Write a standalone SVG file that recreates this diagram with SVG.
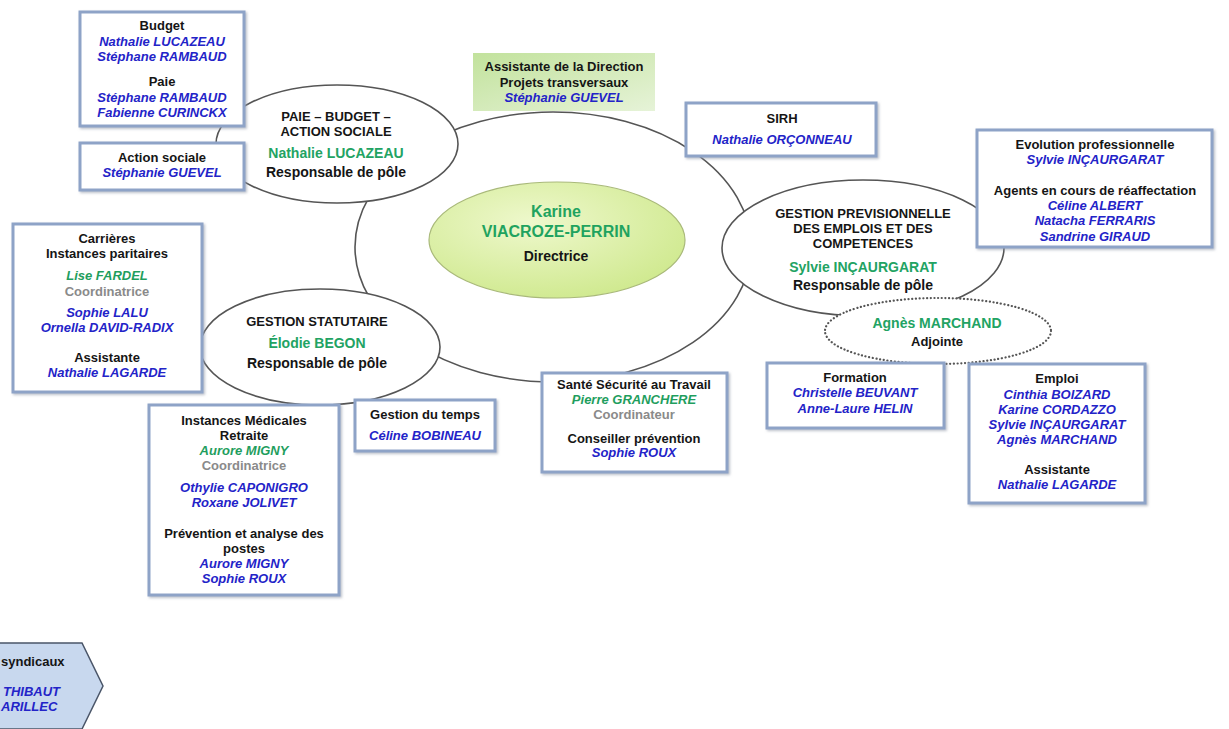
<svg xmlns="http://www.w3.org/2000/svg" width="1229" height="729" viewBox="0 0 1229 729">
<defs>
<style>
.t{font-family:"Liberation Sans",Arial,sans-serif;font-size:13px;font-weight:bold;text-anchor:middle;fill:#151515}
.b{fill:#2323c8;font-style:italic}
.g{fill:#1f9e5e;font-style:italic}
.ge{fill:#22a363;font-size:14px}
.gr{fill:#8a8a8a}
.r{font-size:14px}
.s{text-anchor:start}
.box{fill:#fff;stroke:#8ea3c7;stroke-width:3;filter:url(#sh)}
.ring{fill:#fff;stroke:#555;stroke-width:1.6}
</style>
<filter id="sh" x="-10%" y="-10%" width="130%" height="130%">
<feDropShadow dx="1.5" dy="1.5" stdDeviation="1.2" flood-color="#9098a8" flood-opacity="0.6"/>
</filter>
<linearGradient id="gA" x1="0" y1="0" x2="1" y2="1">
<stop offset="0" stop-color="#c2e29c"/>
<stop offset="1" stop-color="#e6f3d8"/>
</linearGradient>
<radialGradient id="gC" cx="0.4" cy="0.35" r="0.7">
<stop offset="0" stop-color="#eef8cc"/>
<stop offset="1" stop-color="#cfe98e"/>
</radialGradient>
</defs>
<rect width="1229" height="729" fill="#fff"/>

<g id="connectors"></g>

<g id="main-ring">
<ellipse class="ring" cx="553" cy="247" rx="198" ry="135"/>
</g>

<g id="pole-paie">
<ellipse class="ring" cx="337" cy="144" rx="121" ry="59"/>
<text class="t" x="336" y="121">PAIE – BUDGET –</text>
<text class="t" x="336" y="136">ACTION SOCIALE</text>
<text class="t ge" x="336" y="158">Nathalie LUCAZEAU</text>
<text class="t r" x="336" y="177">Responsable de pôle</text>
</g>

<g id="pole-statutaire">
<ellipse class="ring" cx="320" cy="347" rx="120" ry="58"/>
<text class="t" x="317" y="326">GESTION STATUTAIRE</text>
<text class="t ge" x="317" y="348">Élodie BEGON</text>
<text class="t r" x="317" y="368">Responsable de pôle</text>
</g>

<g id="pole-gpec">
<ellipse class="ring" cx="863" cy="248" rx="141" ry="68"/>
<text class="t" x="863" y="218">GESTION PREVISIONNELLE</text>
<text class="t" x="863" y="233">DES EMPLOIS ET DES</text>
<text class="t" x="863" y="248">COMPETENCES</text>
<text class="t ge" x="863" y="272">Sylvie INÇAURGARAT</text>
<text class="t r" x="863" y="290">Responsable de pôle</text>
</g>

<g id="adjointe">
<ellipse cx="938" cy="331" rx="113" ry="33" fill="#fff" stroke="#555" stroke-width="2.2" stroke-dasharray="0.1 3.6" stroke-linecap="round"/>
<text class="t ge" x="937" y="328">Agnès MARCHAND</text>
<text class="t" x="937" y="346">Adjointe</text>
</g>

<g id="directrice">
<ellipse cx="557" cy="240" rx="128" ry="58" fill="url(#gC)" stroke="#a9b97a" stroke-width="1.2"/>
<text class="t" x="556" y="217" style="font-size:16px;fill:#1fa35f">Karine</text>
<text class="t" x="556" y="237" style="font-size:16px;fill:#1fa35f">VIACROZE-PERRIN</text>
<text class="t r" x="556" y="261">Directrice</text>
</g>

<g id="budget-paie">
<rect class="box" x="80" y="12" width="164" height="114"/>
<text class="t" x="162" y="30">Budget</text>
<text class="t b" x="162" y="46">Nathalie LUCAZEAU</text>
<text class="t b" x="162" y="61">Stéphane RAMBAUD</text>
<text class="t" x="162" y="86">Paie</text>
<text class="t b" x="162" y="102">Stéphane RAMBAUD</text>
<text class="t b" x="162" y="117">Fabienne CURINCKX</text>
</g>

<g id="action-sociale">
<rect class="box" x="80" y="143" width="164" height="47"/>
<text class="t" x="162" y="162">Action sociale</text>
<text class="t b" x="162" y="177">Stéphanie GUEVEL</text>
</g>

<g id="assistante-direction">
<rect x="473" y="53" width="182" height="58" fill="url(#gA)"/>
<text class="t" x="564" y="71">Assistante de la Direction</text>
<text class="t" x="564" y="87">Projets transversaux</text>
<text class="t b" x="564" y="102">Stéphanie GUEVEL</text>
</g>

<g id="sirh">
<rect class="box" x="686" y="103" width="190" height="53"/>
<text class="t" x="782" y="123">SIRH</text>
<text class="t b" x="782" y="144">Nathalie ORÇONNEAU</text>
</g>

<g id="evolution">
<rect class="box" x="977" y="130" width="235" height="117"/>
<text class="t" x="1095" y="149">Evolution professionnelle</text>
<text class="t b" x="1095" y="164">Sylvie INÇAURGARAT</text>
<text class="t" x="1095" y="195">Agents en cours de réaffectation</text>
<text class="t b" x="1095" y="210">Céline ALBERT</text>
<text class="t b" x="1095" y="225">Natacha FERRARIS</text>
<text class="t b" x="1095" y="241">Sandrine GIRAUD</text>
</g>

<g id="carrieres">
<rect class="box" x="13" y="224" width="189" height="168"/>
<text class="t" x="107" y="243">Carrières</text>
<text class="t" x="107" y="258">Instances paritaires</text>
<text class="t g" x="107" y="280">Lise FARDEL</text>
<text class="t gr" x="107" y="296">Coordinatrice</text>
<text class="t b" x="107" y="317">Sophie LALU</text>
<text class="t b" x="107" y="332">Ornella DAVID-RADIX</text>
<text class="t" x="107" y="362">Assistante</text>
<text class="t b" x="107" y="377">Nathalie LAGARDE</text>
</g>

<g id="gestion-temps">
<rect class="box" x="355" y="400" width="140" height="51"/>
<text class="t" x="425" y="419">Gestion du temps</text>
<text class="t b" x="425" y="440">Céline BOBINEAU</text>
</g>

<g id="instances-medicales">
<rect class="box" x="149" y="405" width="190" height="190"/>
<text class="t" x="244" y="425">Instances Médicales</text>
<text class="t" x="244" y="440">Retraite</text>
<text class="t g" x="244" y="455">Aurore MIGNY</text>
<text class="t gr" x="244" y="470">Coordinatrice</text>
<text class="t b" x="244" y="492">Othylie CAPONIGRO</text>
<text class="t b" x="244" y="507">Roxane JOLIVET</text>
<text class="t" x="244" y="538">Prévention et analyse des</text>
<text class="t" x="244" y="553">postes</text>
<text class="t b" x="244" y="568">Aurore MIGNY</text>
<text class="t b" x="244" y="583">Sophie ROUX</text>
</g>

<g id="sante-securite">
<rect class="box" x="542" y="373" width="185" height="99"/>
<text class="t" x="634" y="389">Santé Sécurité au Travail</text>
<text class="t g" x="634" y="404">Pierre GRANCHERE</text>
<text class="t gr" x="634" y="419">Coordinateur</text>
<text class="t" x="634" y="443">Conseiller prévention</text>
<text class="t b" x="634" y="457">Sophie ROUX</text>
</g>

<g id="formation">
<rect class="box" x="767" y="363" width="177" height="65"/>
<text class="t" x="855" y="382">Formation</text>
<text class="t b" x="855" y="397">Christelle BEUVANT</text>
<text class="t b" x="855" y="413">Anne-Laure HELIN</text>
</g>

<g id="emploi">
<rect class="box" x="969" y="364" width="176" height="139"/>
<text class="t" x="1057" y="383">Emploi</text>
<text class="t b" x="1057" y="399">Cinthia BOIZARD</text>
<text class="t b" x="1057" y="414">Karine CORDAZZO</text>
<text class="t b" x="1057" y="429">Sylvie INÇAURGARAT</text>
<text class="t b" x="1057" y="444">Agnès MARCHAND</text>
<text class="t" x="1057" y="474">Assistante</text>
<text class="t b" x="1057" y="489">Nathalie LAGARDE</text>
</g>

<g id="syndicaux">
<polygon points="-5,643 82,643 103,686 82,729 -5,729" fill="#c8d8ee" stroke="#4a5568" stroke-width="1.5"/>
<text class="t s" x="1" y="666">syndicaux</text>
<text class="t b s" x="3" y="696">THIBAUT</text>
<text class="t b s" x="1" y="711">ARILLEC</text>
</g>
</svg>
